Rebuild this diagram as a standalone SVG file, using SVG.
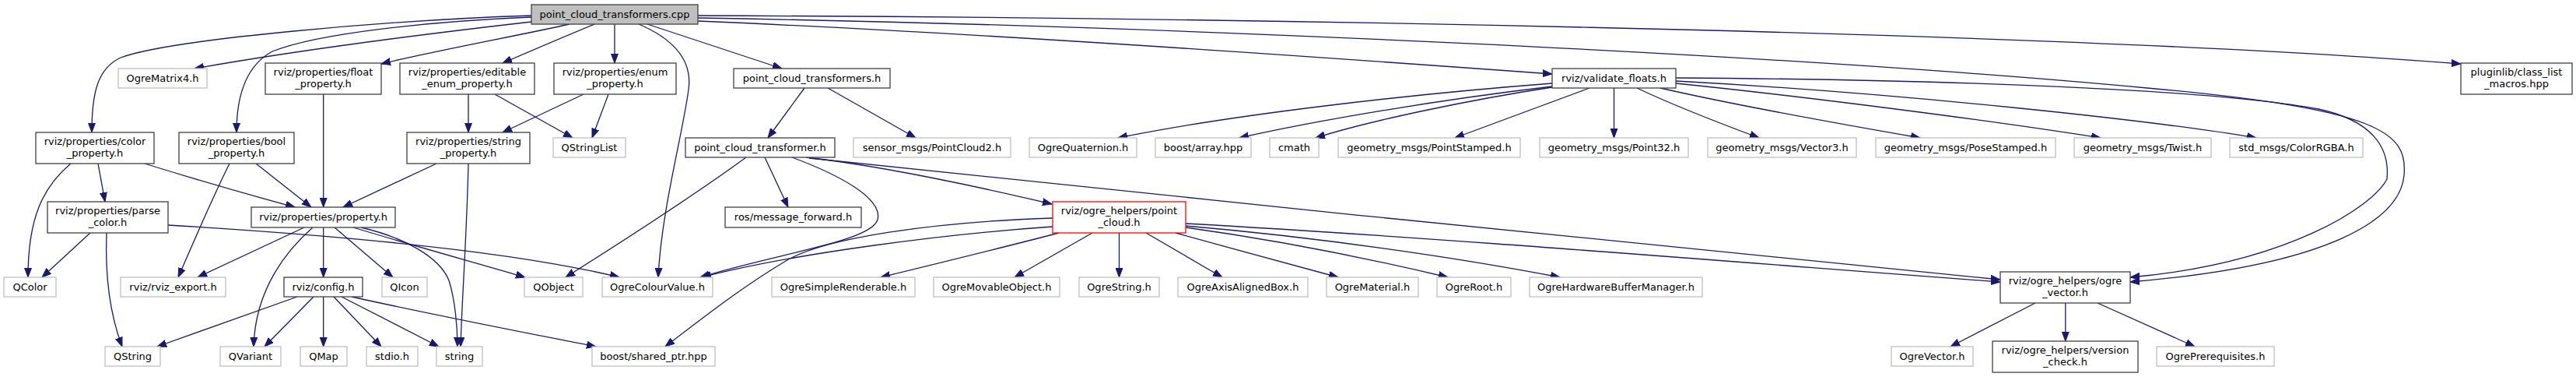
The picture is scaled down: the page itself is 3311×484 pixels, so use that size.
<svg xmlns="http://www.w3.org/2000/svg" width="3311" height="484" viewBox="0 0 3311 484">
<style>
.n rect{fill:#fff;stroke:#404040;stroke-width:1.3}
.x rect{stroke:#bfbfbf}
.r rect{stroke:#ff0000}
.root rect{fill:#bfbfbf}
text{font-family:"DejaVu Sans",sans-serif;font-size:13px;text-anchor:middle;fill:#000}
#edges path{fill:none;stroke:#191970;stroke-width:1.3;marker-end:url(#ah)}
</style>
<defs>
<marker id="ah" markerUnits="userSpaceOnUse" viewBox="0 0 13 10" refX="12" refY="5" markerWidth="13" markerHeight="10" orient="auto">
<path d="M0,0.5 L12,5 L0,9.5 z" fill="#191970" stroke="#191970" stroke-width="1"/>
</marker>
</defs>
<rect width="3311" height="484" fill="#fff"/>
<g id="edges">
<path d="M683,20 C500,26 220,50 155,74 C125,88 118,120 118,170"/>
<path d="M683,28 C560,42 380,65 250,88"/>
<path d="M683,22 C560,27 410,42 350,66 C315,85 304,125 304,170"/>
<path d="M732,31 C670,45 560,65 490,82"/>
<path d="M764,31 C730,45 690,62 646,81"/>
<path d="M790,31 L790,81"/>
<path d="M821,31 C870,52 890,80 885,115 C878,170 850,270 846,356"/>
<path d="M832,31 L1005,88"/>
<path d="M897,27 C1250,42 1650,70 1995,95"/>
<path d="M897,20 C1500,22 2600,38 3163,82"/>
<path d="M897,23 C1500,33 2300,70 2760,113 C3060,140 3095,170 3090,225 C3085,280 3000,340 2738,362"/>
<path d="M1995,107 C1800,122 1580,148 1437,177"/>
<path d="M1995,111 C1850,128 1690,155 1593,177"/>
<path d="M1995,112 C1890,128 1760,155 1691,177"/>
<path d="M2043,113 L1870,177"/>
<path d="M2074.5,113 L2074.5,177"/>
<path d="M2104,113 C2150,135 2210,158 2261,177"/>
<path d="M2134,113 C2230,135 2370,160 2468,177"/>
<path d="M2154,107 C2330,125 2560,155 2700,177"/>
<path d="M2154,104 C2450,120 2770,155 2900,177"/>
<path d="M2154,100 C2500,102 2850,115 2980,140 C3050,155 3072,190 3068,230 C3050,265 2940,338 2738,356"/>
<path d="M1034,113 L987,177"/>
<path d="M1064,113 L1177,177"/>
<path d="M959,202 C900,245 800,310 727,356"/>
<path d="M983,202 L1013,266"/>
<path d="M1018,202 C1080,225 1135,255 1128,282 C1120,310 1000,325 900,356"/>
<path d="M1036,202 C1150,215 1280,245 1352,262"/>
<path d="M1040,203 C1500,250 2150,320 2571,359"/>
<path d="M1353,291 C1220,300 1020,325 902,356"/>
<path d="M1353,280 C1200,285 1060,305 1010,335 C960,365 920,395 855,445"/>
<path d="M1361,299 C1300,315 1210,337 1132,356"/>
<path d="M1404,299 L1304,356"/>
<path d="M1438.5,299 L1438.5,356"/>
<path d="M1473,299 L1571,356"/>
<path d="M1511,299 C1580,318 1660,340 1720,356"/>
<path d="M1524,292 C1640,308 1760,332 1861,356"/>
<path d="M1524,290 C1700,305 1880,332 2005,356"/>
<path d="M1524,287 C1850,305 2250,338 2571,362"/>
<path d="M2616,389 L2507,445"/>
<path d="M2654.8,389 L2654.8,438"/>
<path d="M2696,389 L2821,445"/>
<path d="M91,210 C55,240 36,280 36,356"/>
<path d="M126,210 L135,259"/>
<path d="M186,210 C250,230 320,250 379,266"/>
<path d="M295,210 C270,260 245,320 229,356"/>
<path d="M329,210 L400,266"/>
<path d="M415.7,121 L415.7,266"/>
<path d="M561,210 L441,266"/>
<path d="M602,210 C600,300 594,380 592,445"/>
<path d="M602,121 L602,170"/>
<path d="M636,121 L736,177"/>
<path d="M750,121 L646,170"/>
<path d="M782,121 L761,177"/>
<path d="M116,299 L54,356"/>
<path d="M137,299 C135,350 140,400 157,445"/>
<path d="M216,289 C400,300 650,320 796,356"/>
<path d="M391,292 L254,356"/>
<path d="M402,292 C370,320 328,370 326,445"/>
<path d="M415.7,292 L415.7,356"/>
<path d="M430,292 L505,356"/>
<path d="M454,292 C530,315 610,337 675,356"/>
<path d="M464,292 C520,305 565,330 577,360 C585,385 588,420 588,445"/>
<path d="M382,381 L202,445"/>
<path d="M403,381 L340,445"/>
<path d="M415.7,381 L415.7,445"/>
<path d="M429,381 L490,445"/>
<path d="M439,381 L564,445"/>
<path d="M452,381 C560,405 680,428 766,445"/>
</g>
<g id="n_cpp" class="n root"><rect x="683" y="6" width="214" height="25"/><text x="790" y="22.5">point_cloud_transformers.cpp</text></g>
<g id="n_matrix4" class="n x"><rect x="152" y="88" width="114" height="25"/><text x="209" y="104.5">OgreMatrix4.h</text></g>
<g id="n_float" class="n"><rect x="341" y="81" width="149" height="40"/><text x="415.5" y="97">rviz/properties/float</text><text x="415.5" y="111.5">_property.h</text></g>
<g id="n_editable" class="n"><rect x="514" y="81" width="173" height="40"/><text x="600.5" y="97">rviz/properties/editable</text><text x="600.5" y="111.5">_enum_property.h</text></g>
<g id="n_enum" class="n"><rect x="712" y="81" width="157" height="40"/><text x="790.5" y="97">rviz/properties/enum</text><text x="790.5" y="111.5">_property.h</text></g>
<g id="n_pcts" class="n"><rect x="943" y="88" width="201" height="25"/><text x="1043.5" y="104.5">point_cloud_transformers.h</text></g>
<g id="n_validate" class="n"><rect x="1995" y="88" width="159" height="25"/><text x="2074.5" y="104.5">rviz/validate_floats.h</text></g>
<g id="n_pluginlib" class="n"><rect x="3163" y="81" width="143" height="40"/><text x="3234.5" y="97">pluginlib/class_list</text><text x="3234.5" y="111.5">_macros.hpp</text></g>
<g id="n_color" class="n"><rect x="46" y="170" width="152" height="40"/><text x="122" y="186">rviz/properties/color</text><text x="122" y="200.5">_property.h</text></g>
<g id="n_bool" class="n"><rect x="230" y="170" width="148" height="40"/><text x="304" y="186">rviz/properties/bool</text><text x="304" y="200.5">_property.h</text></g>
<g id="n_string_prop" class="n"><rect x="523" y="170" width="158" height="40"/><text x="602" y="186">rviz/properties/string</text><text x="602" y="200.5">_property.h</text></g>
<g id="n_qstringlist" class="n x"><rect x="711" y="177" width="93" height="25"/><text x="757.5" y="193.5">QStringList</text></g>
<g id="n_pct" class="n"><rect x="881" y="177" width="192" height="25"/><text x="977" y="193.5">point_cloud_transformer.h</text></g>
<g id="n_pc2" class="n x"><rect x="1097" y="177" width="202" height="25"/><text x="1198" y="193.5">sensor_msgs/PointCloud2.h</text></g>
<g id="n_quat" class="n x"><rect x="1323" y="177" width="138" height="25"/><text x="1392" y="193.5">OgreQuaternion.h</text></g>
<g id="n_barray" class="n x"><rect x="1485" y="177" width="123" height="25"/><text x="1546.5" y="193.5">boost/array.hpp</text></g>
<g id="n_cmath" class="n x"><rect x="1632" y="177" width="63" height="25"/><text x="1663.5" y="193.5">cmath</text></g>
<g id="n_pstamped" class="n x"><rect x="1720" y="177" width="234" height="25"/><text x="1837" y="193.5">geometry_msgs/PointStamped.h</text></g>
<g id="n_p32" class="n x"><rect x="1979" y="177" width="191" height="25"/><text x="2074.5" y="193.5">geometry_msgs/Point32.h</text></g>
<g id="n_vec3" class="n x"><rect x="2195" y="177" width="191" height="25"/><text x="2290.5" y="193.5">geometry_msgs/Vector3.h</text></g>
<g id="n_pose" class="n x"><rect x="2411" y="177" width="231" height="25"/><text x="2526.5" y="193.5">geometry_msgs/PoseStamped.h</text></g>
<g id="n_twist" class="n x"><rect x="2666" y="177" width="176" height="25"/><text x="2754" y="193.5">geometry_msgs/Twist.h</text></g>
<g id="n_rgba" class="n x"><rect x="2866" y="177" width="171" height="25"/><text x="2951.5" y="193.5">std_msgs/ColorRGBA.h</text></g>
<g id="n_parse" class="n"><rect x="61" y="259" width="155" height="40"/><text x="138.5" y="275">rviz/properties/parse</text><text x="138.5" y="289.5">_color.h</text></g>
<g id="n_property" class="n"><rect x="323" y="266" width="185" height="26"/><text x="415.5" y="283">rviz/properties/property.h</text></g>
<g id="n_msgfwd" class="n"><rect x="932" y="266" width="175" height="26"/><text x="1019.5" y="283">ros/message_forward.h</text></g>
<g id="n_pointcloud" class="n r"><rect x="1353" y="259" width="171" height="40"/><text x="1438.5" y="275">rviz/ogre_helpers/point</text><text x="1438.5" y="289.5">_cloud.h</text></g>
<g id="n_ogrevec" class="n"><rect x="2571" y="349" width="167" height="40"/><text x="2654.5" y="365">rviz/ogre_helpers/ogre</text><text x="2654.5" y="379.5">_vector.h</text></g>
<g id="n_qcolor" class="n x"><rect x="5" y="356" width="67" height="25"/><text x="38.5" y="372.5">QColor</text></g>
<g id="n_export" class="n x"><rect x="155" y="356" width="135" height="25"/><text x="222.5" y="372.5">rviz/rviz_export.h</text></g>
<g id="n_config" class="n"><rect x="365" y="356" width="101" height="25"/><text x="415.5" y="372.5">rviz/config.h</text></g>
<g id="n_qicon" class="n x"><rect x="491" y="356" width="58" height="25"/><text x="520" y="372.5">QIcon</text></g>
<g id="n_qobject" class="n x"><rect x="674" y="356" width="75" height="25"/><text x="711.5" y="372.5">QObject</text></g>
<g id="n_colour" class="n x"><rect x="774" y="356" width="142" height="25"/><text x="845" y="372.5">OgreColourValue.h</text></g>
<g id="n_simple" class="n x"><rect x="992" y="356" width="184" height="25"/><text x="1084" y="372.5">OgreSimpleRenderable.h</text></g>
<g id="n_movable" class="n x"><rect x="1200" y="356" width="162" height="25"/><text x="1281" y="372.5">OgreMovableObject.h</text></g>
<g id="n_ostring" class="n x"><rect x="1387" y="356" width="103" height="25"/><text x="1438.5" y="372.5">OgreString.h</text></g>
<g id="n_aabb" class="n x"><rect x="1514" y="356" width="167" height="25"/><text x="1597.5" y="372.5">OgreAxisAlignedBox.h</text></g>
<g id="n_material" class="n x"><rect x="1705" y="356" width="118" height="25"/><text x="1764" y="372.5">OgreMaterial.h</text></g>
<g id="n_root" class="n x"><rect x="1847" y="356" width="95" height="25"/><text x="1894.5" y="372.5">OgreRoot.h</text></g>
<g id="n_hbm" class="n x"><rect x="1966" y="356" width="222" height="25"/><text x="2077" y="372.5">OgreHardwareBufferManager.h</text></g>
<g id="n_qstring" class="n x"><rect x="135" y="445" width="71" height="25"/><text x="170.5" y="461.5">QString</text></g>
<g id="n_qvariant" class="n x"><rect x="283" y="445" width="78" height="25"/><text x="322" y="461.5">QVariant</text></g>
<g id="n_qmap" class="n x"><rect x="386" y="445" width="60" height="25"/><text x="416" y="461.5">QMap</text></g>
<g id="n_stdio" class="n x"><rect x="471" y="445" width="66" height="25"/><text x="504" y="461.5">stdio.h</text></g>
<g id="n_string" class="n x"><rect x="561" y="445" width="59" height="25"/><text x="590.5" y="461.5">string</text></g>
<g id="n_shared" class="n x"><rect x="761" y="445" width="158" height="25"/><text x="840" y="461.5">boost/shared_ptr.hpp</text></g>
<g id="n_ovector" class="n x"><rect x="2431" y="445" width="105" height="25"/><text x="2483.5" y="461.5">OgreVector.h</text></g>
<g id="n_version" class="n"><rect x="2561" y="438" width="187" height="40"/><text x="2654.5" y="454">rviz/ogre_helpers/version</text><text x="2654.5" y="468.5">_check.h</text></g>
<g id="n_prereq" class="n x"><rect x="2772" y="445" width="151" height="25"/><text x="2847.5" y="461.5">OgrePrerequisites.h</text></g>
</svg>
